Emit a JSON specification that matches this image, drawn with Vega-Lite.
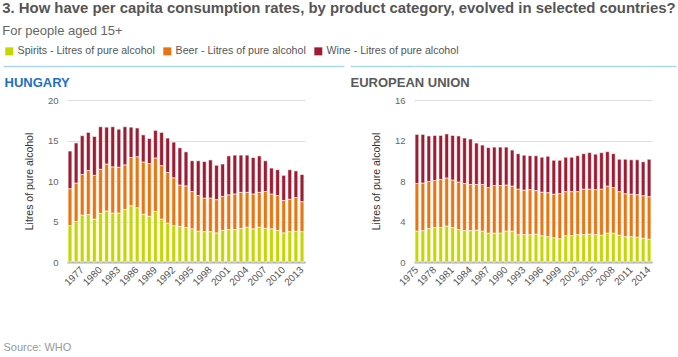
{
  "$schema": "https://vega.github.io/schema/vega-lite/v6.json",
  "background": "white",
  "padding": {"left": 2, "top": 1, "right": 1, "bottom": 2},
  "title": {
    "text": "3. How have per capita consumption rates, by product category, evolved in selected countries?",
    "subtitle": "For people aged 15+",
    "anchor": "start",
    "frame": "bounds",
    "offset": 8,
    "fontSize": 14.9,
    "fontWeight": "bold",
    "color": "#555555",
    "subtitleFontSize": 13,
    "subtitleColor": "#666666",
    "subtitlePadding": 9
  },
  "datasets": {
    "hu": [
      {"year": 1975, "Spirits": 4.5, "Beer": 4.55, "Wine": 4.65},
      {"year": 1976, "Spirits": 5.0, "Beer": 4.75, "Wine": 4.95},
      {"year": 1977, "Spirits": 5.8, "Beer": 5.0, "Wine": 4.8},
      {"year": 1978, "Spirits": 5.85, "Beer": 5.45, "Wine": 4.7},
      {"year": 1979, "Spirits": 5.3, "Beer": 5.4, "Wine": 4.8},
      {"year": 1980, "Spirits": 6.0, "Beer": 5.45, "Wine": 5.25},
      {"year": 1981, "Spirits": 6.3, "Beer": 5.8, "Wine": 4.55},
      {"year": 1982, "Spirits": 6.05, "Beer": 5.7, "Wine": 4.95},
      {"year": 1983, "Spirits": 6.05, "Beer": 5.65, "Wine": 4.7},
      {"year": 1984, "Spirits": 6.5, "Beer": 5.5, "Wine": 4.7},
      {"year": 1985, "Spirits": 6.95, "Beer": 5.95, "Wine": 3.75},
      {"year": 1986, "Spirits": 6.7, "Beer": 6.3, "Wine": 3.55},
      {"year": 1987, "Spirits": 5.9, "Beer": 6.45, "Wine": 3.35},
      {"year": 1988, "Spirits": 5.65, "Beer": 6.5, "Wine": 3.1},
      {"year": 1989, "Spirits": 6.25, "Beer": 6.6, "Wine": 3.4},
      {"year": 1990, "Spirits": 5.3, "Beer": 6.6, "Wine": 4.1},
      {"year": 1991, "Spirits": 4.8, "Beer": 6.25, "Wine": 4.25},
      {"year": 1992, "Spirits": 4.5, "Beer": 5.9, "Wine": 4.4},
      {"year": 1993, "Spirits": 4.4, "Beer": 5.1, "Wine": 4.6},
      {"year": 1994, "Spirits": 4.25, "Beer": 5.15, "Wine": 4.2},
      {"year": 1995, "Spirits": 4.1, "Beer": 4.6, "Wine": 3.8},
      {"year": 1996, "Spirits": 3.8, "Beer": 4.4, "Wine": 4.3},
      {"year": 1997, "Spirits": 3.75, "Beer": 4.15, "Wine": 4.5},
      {"year": 1998, "Spirits": 3.75, "Beer": 4.15, "Wine": 4.7},
      {"year": 1999, "Spirits": 3.6, "Beer": 4.1, "Wine": 4.25},
      {"year": 2000, "Spirits": 3.9, "Beer": 4.2, "Wine": 4.0},
      {"year": 2001, "Spirits": 4.0, "Beer": 4.3, "Wine": 4.8},
      {"year": 2002, "Spirits": 4.0, "Beer": 4.4, "Wine": 4.8},
      {"year": 2003, "Spirits": 4.15, "Beer": 4.45, "Wine": 4.6},
      {"year": 2004, "Spirits": 4.3, "Beer": 4.3, "Wine": 4.6},
      {"year": 2005, "Spirits": 4.1, "Beer": 4.3, "Wine": 4.5},
      {"year": 2006, "Spirits": 4.3, "Beer": 4.3, "Wine": 4.5},
      {"year": 2007, "Spirits": 4.15, "Beer": 4.55, "Wine": 3.8},
      {"year": 2008, "Spirits": 4.1, "Beer": 4.3, "Wine": 3.2},
      {"year": 2009, "Spirits": 3.9, "Beer": 4.3, "Wine": 3.2},
      {"year": 2010, "Spirits": 3.6, "Beer": 4.0, "Wine": 3.1},
      {"year": 2011, "Spirits": 3.75, "Beer": 4.0, "Wine": 3.65},
      {"year": 2012, "Spirits": 3.8, "Beer": 4.15, "Wine": 3.3},
      {"year": 2013, "Spirits": 3.75, "Beer": 3.7, "Wine": 3.35}
    ],
    "eu": [
      {"year": 1975, "Spirits": 3.05, "Beer": 4.7, "Wine": 4.85},
      {"year": 1976, "Spirits": 3.1, "Beer": 4.7, "Wine": 4.8},
      {"year": 1977, "Spirits": 3.3, "Beer": 4.65, "Wine": 4.5},
      {"year": 1978, "Spirits": 3.4, "Beer": 4.65, "Wine": 4.45},
      {"year": 1979, "Spirits": 3.4, "Beer": 4.75, "Wine": 4.35},
      {"year": 1980, "Spirits": 3.55, "Beer": 4.75, "Wine": 4.35},
      {"year": 1981, "Spirits": 3.4, "Beer": 4.7, "Wine": 4.4},
      {"year": 1982, "Spirits": 3.2, "Beer": 4.7, "Wine": 4.55},
      {"year": 1983, "Spirits": 3.1, "Beer": 4.65, "Wine": 4.5},
      {"year": 1984, "Spirits": 3.1, "Beer": 4.55, "Wine": 4.5},
      {"year": 1985, "Spirits": 3.15, "Beer": 4.5, "Wine": 4.1},
      {"year": 1986, "Spirits": 3.05, "Beer": 4.6, "Wine": 3.9},
      {"year": 1987, "Spirits": 2.85, "Beer": 4.5, "Wine": 3.95},
      {"year": 1988, "Spirits": 2.85, "Beer": 4.7, "Wine": 3.8},
      {"year": 1989, "Spirits": 2.85, "Beer": 4.7, "Wine": 3.8},
      {"year": 1990, "Spirits": 3.05, "Beer": 4.55, "Wine": 3.75},
      {"year": 1991, "Spirits": 3.05, "Beer": 4.45, "Wine": 3.55},
      {"year": 1992, "Spirits": 2.7, "Beer": 4.5, "Wine": 3.5},
      {"year": 1993, "Spirits": 2.7, "Beer": 4.4, "Wine": 3.45},
      {"year": 1994, "Spirits": 2.7, "Beer": 4.45, "Wine": 3.35},
      {"year": 1995, "Spirits": 2.75, "Beer": 4.3, "Wine": 3.45},
      {"year": 1996, "Spirits": 2.6, "Beer": 4.3, "Wine": 3.45},
      {"year": 1997, "Spirits": 2.5, "Beer": 4.35, "Wine": 3.6},
      {"year": 1998, "Spirits": 2.4, "Beer": 4.3, "Wine": 3.35},
      {"year": 1999, "Spirits": 2.3, "Beer": 4.45, "Wine": 3.3},
      {"year": 2000, "Spirits": 2.6, "Beer": 4.35, "Wine": 3.4},
      {"year": 2001, "Spirits": 2.6, "Beer": 4.35, "Wine": 3.4},
      {"year": 2002, "Spirits": 2.7, "Beer": 4.25, "Wine": 3.55},
      {"year": 2003, "Spirits": 2.7, "Beer": 4.5, "Wine": 3.5},
      {"year": 2004, "Spirits": 2.75, "Beer": 4.45, "Wine": 3.6},
      {"year": 2005, "Spirits": 2.7, "Beer": 4.45, "Wine": 3.5},
      {"year": 2006, "Spirits": 2.65, "Beer": 4.55, "Wine": 3.6},
      {"year": 2007, "Spirits": 2.85, "Beer": 4.65, "Wine": 3.4},
      {"year": 2008, "Spirits": 2.85, "Beer": 4.5, "Wine": 3.35},
      {"year": 2009, "Spirits": 2.65, "Beer": 4.3, "Wine": 3.2},
      {"year": 2010, "Spirits": 2.5, "Beer": 4.25, "Wine": 3.4},
      {"year": 2011, "Spirits": 2.5, "Beer": 4.2, "Wine": 3.4},
      {"year": 2012, "Spirits": 2.45, "Beer": 4.2, "Wine": 3.45},
      {"year": 2013, "Spirits": 2.35, "Beer": 4.2, "Wine": 3.35},
      {"year": 2014, "Spirits": 2.25, "Beer": 4.2, "Wine": 3.7}
    ]
  },
  "hconcat": [
    {
      "width": 238,
      "height": 162,
      "data": {"name": "hu"},
      "transform": [
        {"fold": ["Spirits", "Beer", "Wine"], "as": ["cat", "val"]},
        {"calculate": "indexof(['Spirits','Beer','Wine'], datum.cat)", "as": "ord"}
      ],
      "encoding": {
        "x": {
          "field": "year", "type": "ordinal",
          "scale": {"paddingInner": 0.38, "paddingOuter": 0.18},
          "axis": {
            "values": [1977, 1980, 1983, 1986, 1989, 1992, 1995, 1998, 2001, 2004, 2007, 2010, 2013],
            "labelAngle": -45, "labelAlign": "right", "labelBaseline": "middle",
            "labelPadding": 6, "labelFontSize": 10, "labelColor": "#555555", "labelOverlap": false,
            "ticks": false, "domainColor": "#b0b0b0", "domainWidth": 2,
            "title": "Source: WHO", "titleX": -64, "titleY": 85, "titleAlign": "left",
            "titleBaseline": "middle", "titleFontSize": 11, "titleFontWeight": "normal", "titleColor": "#999999"
          }
        }
      },
      "layer": [
        {
          "mark": {"type": "bar", "stroke": "#ffffff", "strokeWidth": 0.6},
          "encoding": {
            "y": {
              "field": "val", "type": "quantitative", "stack": "zero",
              "scale": {"domain": [0, 20], "nice": false},
              "axis": {
                "orient": "left", "values": [0, 5, 10, 15, 20],
                "title": "Litres of pure alcohol", "titleFontSize": 10.5, "titleFontWeight": "normal",
                "titleColor": "#333333", "titlePadding": 13,
                "labelFontSize": 9.5, "labelColor": "#666666", "labelPadding": 9,
                "ticks": false, "domain": false, "grid": true, "gridColor": "#dedede"
              }
            },
            "color": {
              "field": "cat", "type": "nominal",
              "scale": {"domain": ["Spirits", "Beer", "Wine"], "range": ["#c5d600", "#e87511", "#9d1c33"]},
              "legend": {
                "orient": "none", "legendX": -63, "legendY": -54,
                "direction": "horizontal", "title": null,
                "labelExpr": "datum.label + ' - Litres of pure alcohol'",
                "symbolType": "square", "symbolSize": 64, "symbolStrokeWidth": 0,
                "labelFontSize": 10.6, "labelColor": "#555555", "labelOffset": 3,
                "columnPadding": 7
              }
            },
            "order": {"field": "ord", "type": "quantitative"}
          }
        },
        {
          "mark": {"type": "point", "opacity": 0},
          "encoding": {
            "y": {
              "field": "val", "type": "quantitative",
              "axis": {
                "orient": "left", "values": [20], "tickOffset": -34, "labels": false, "domain": false,
                "ticks": true, "tickSize": 64, "tickColor": "#a9d9f0", "tickWidth": 1.5,
                "grid": true, "gridColor": "#a9d9f0", "gridWidth": 1.5, "gridOpacity": 1,
                "title": "HUNGARY", "titleAngle": 0, "titleX": -63, "titleY": -18,
                "titleAlign": "left", "titleBaseline": "middle", "titleFontSize": 13,
                "titleFontWeight": "bold", "titleColor": "#1e6fc6"
              }
            }
          }
        },
        {
          "mark": {"type": "point", "opacity": 0},
          "encoding": {
            "y": {
              "field": "val", "type": "quantitative",
              "axis": {
                "orient": "right", "values": [20], "tickOffset": -34, "labels": false, "domain": false,
                "ticks": true, "tickSize": 39, "tickColor": "#a9d9f0", "tickWidth": 1.5,
                "grid": false, "title": null
              }
            }
          }
        }
      ],
      "resolve": {"axis": {"y": "independent"}}
    },
    {
      "width": 238,
      "height": 162,
      "data": {"name": "eu"},
      "transform": [
        {"fold": ["Spirits", "Beer", "Wine"], "as": ["cat", "val"]},
        {"calculate": "indexof(['Spirits','Beer','Wine'], datum.cat)", "as": "ord"}
      ],
      "encoding": {
        "x": {
          "field": "year", "type": "ordinal",
          "scale": {"paddingInner": 0.38, "paddingOuter": 0.18},
          "axis": {
            "values": [1975, 1978, 1981, 1984, 1987, 1990, 1993, 1996, 1999, 2002, 2005, 2008, 2011, 2014],
            "labelAngle": -45, "labelAlign": "right", "labelBaseline": "middle",
            "labelPadding": 6, "labelFontSize": 10, "labelColor": "#555555", "labelOverlap": false,
            "ticks": false, "domainColor": "#b0b0b0", "domainWidth": 2, "title": null
          }
        }
      },
      "layer": [
        {
          "mark": {"type": "bar", "stroke": "#ffffff", "strokeWidth": 0.6},
          "encoding": {
            "y": {
              "field": "val", "type": "quantitative", "stack": "zero",
              "scale": {"domain": [0, 16], "nice": false},
              "axis": {
                "orient": "left", "values": [0, 4, 8, 12, 16],
                "title": "Litres of pure alcohol", "titleFontSize": 10.5, "titleFontWeight": "normal",
                "titleColor": "#333333", "titlePadding": 13,
                "labelFontSize": 9.5, "labelColor": "#666666", "labelPadding": 9,
                "ticks": false, "domain": false, "grid": true, "gridColor": "#dedede"
              }
            },
            "color": {
              "field": "cat", "type": "nominal",
              "scale": {"domain": ["Spirits", "Beer", "Wine"], "range": ["#c5d600", "#e87511", "#9d1c33"]}
            },
            "order": {"field": "ord", "type": "quantitative"}
          }
        },
        {
          "mark": {"type": "point", "opacity": 0},
          "encoding": {
            "y": {
              "field": "val", "type": "quantitative",
              "axis": {
                "orient": "left", "values": [16], "tickOffset": -34, "labels": false, "domain": false,
                "ticks": true, "tickSize": 64, "tickColor": "#a9d9f0", "tickWidth": 1.5,
                "grid": true, "gridColor": "#a9d9f0", "gridWidth": 1.5, "gridOpacity": 1,
                "title": "EUROPEAN UNION", "titleAngle": 0, "titleX": -64, "titleY": -18,
                "titleAlign": "left", "titleBaseline": "middle", "titleFontSize": 13,
                "titleFontWeight": "bold", "titleColor": "#5a5a5a"
              }
            }
          }
        },
        {
          "mark": {"type": "point", "opacity": 0},
          "encoding": {
            "y": {
              "field": "val", "type": "quantitative",
              "axis": {
                "orient": "right", "values": [16], "tickOffset": -34, "labels": false, "domain": false,
                "ticks": true, "tickSize": 24, "tickColor": "#a9d9f0", "tickWidth": 1.5,
                "grid": false, "title": null
              }
            }
          }
        }
      ],
      "resolve": {"axis": {"y": "independent"}}
    }
  ],
  "spacing": 4,
  "resolve": {"scale": {"color": "shared"}, "legend": {"color": "shared"}},
  "config": {
    "font": "Liberation Sans",
    "view": {"stroke": null}
  }
}
